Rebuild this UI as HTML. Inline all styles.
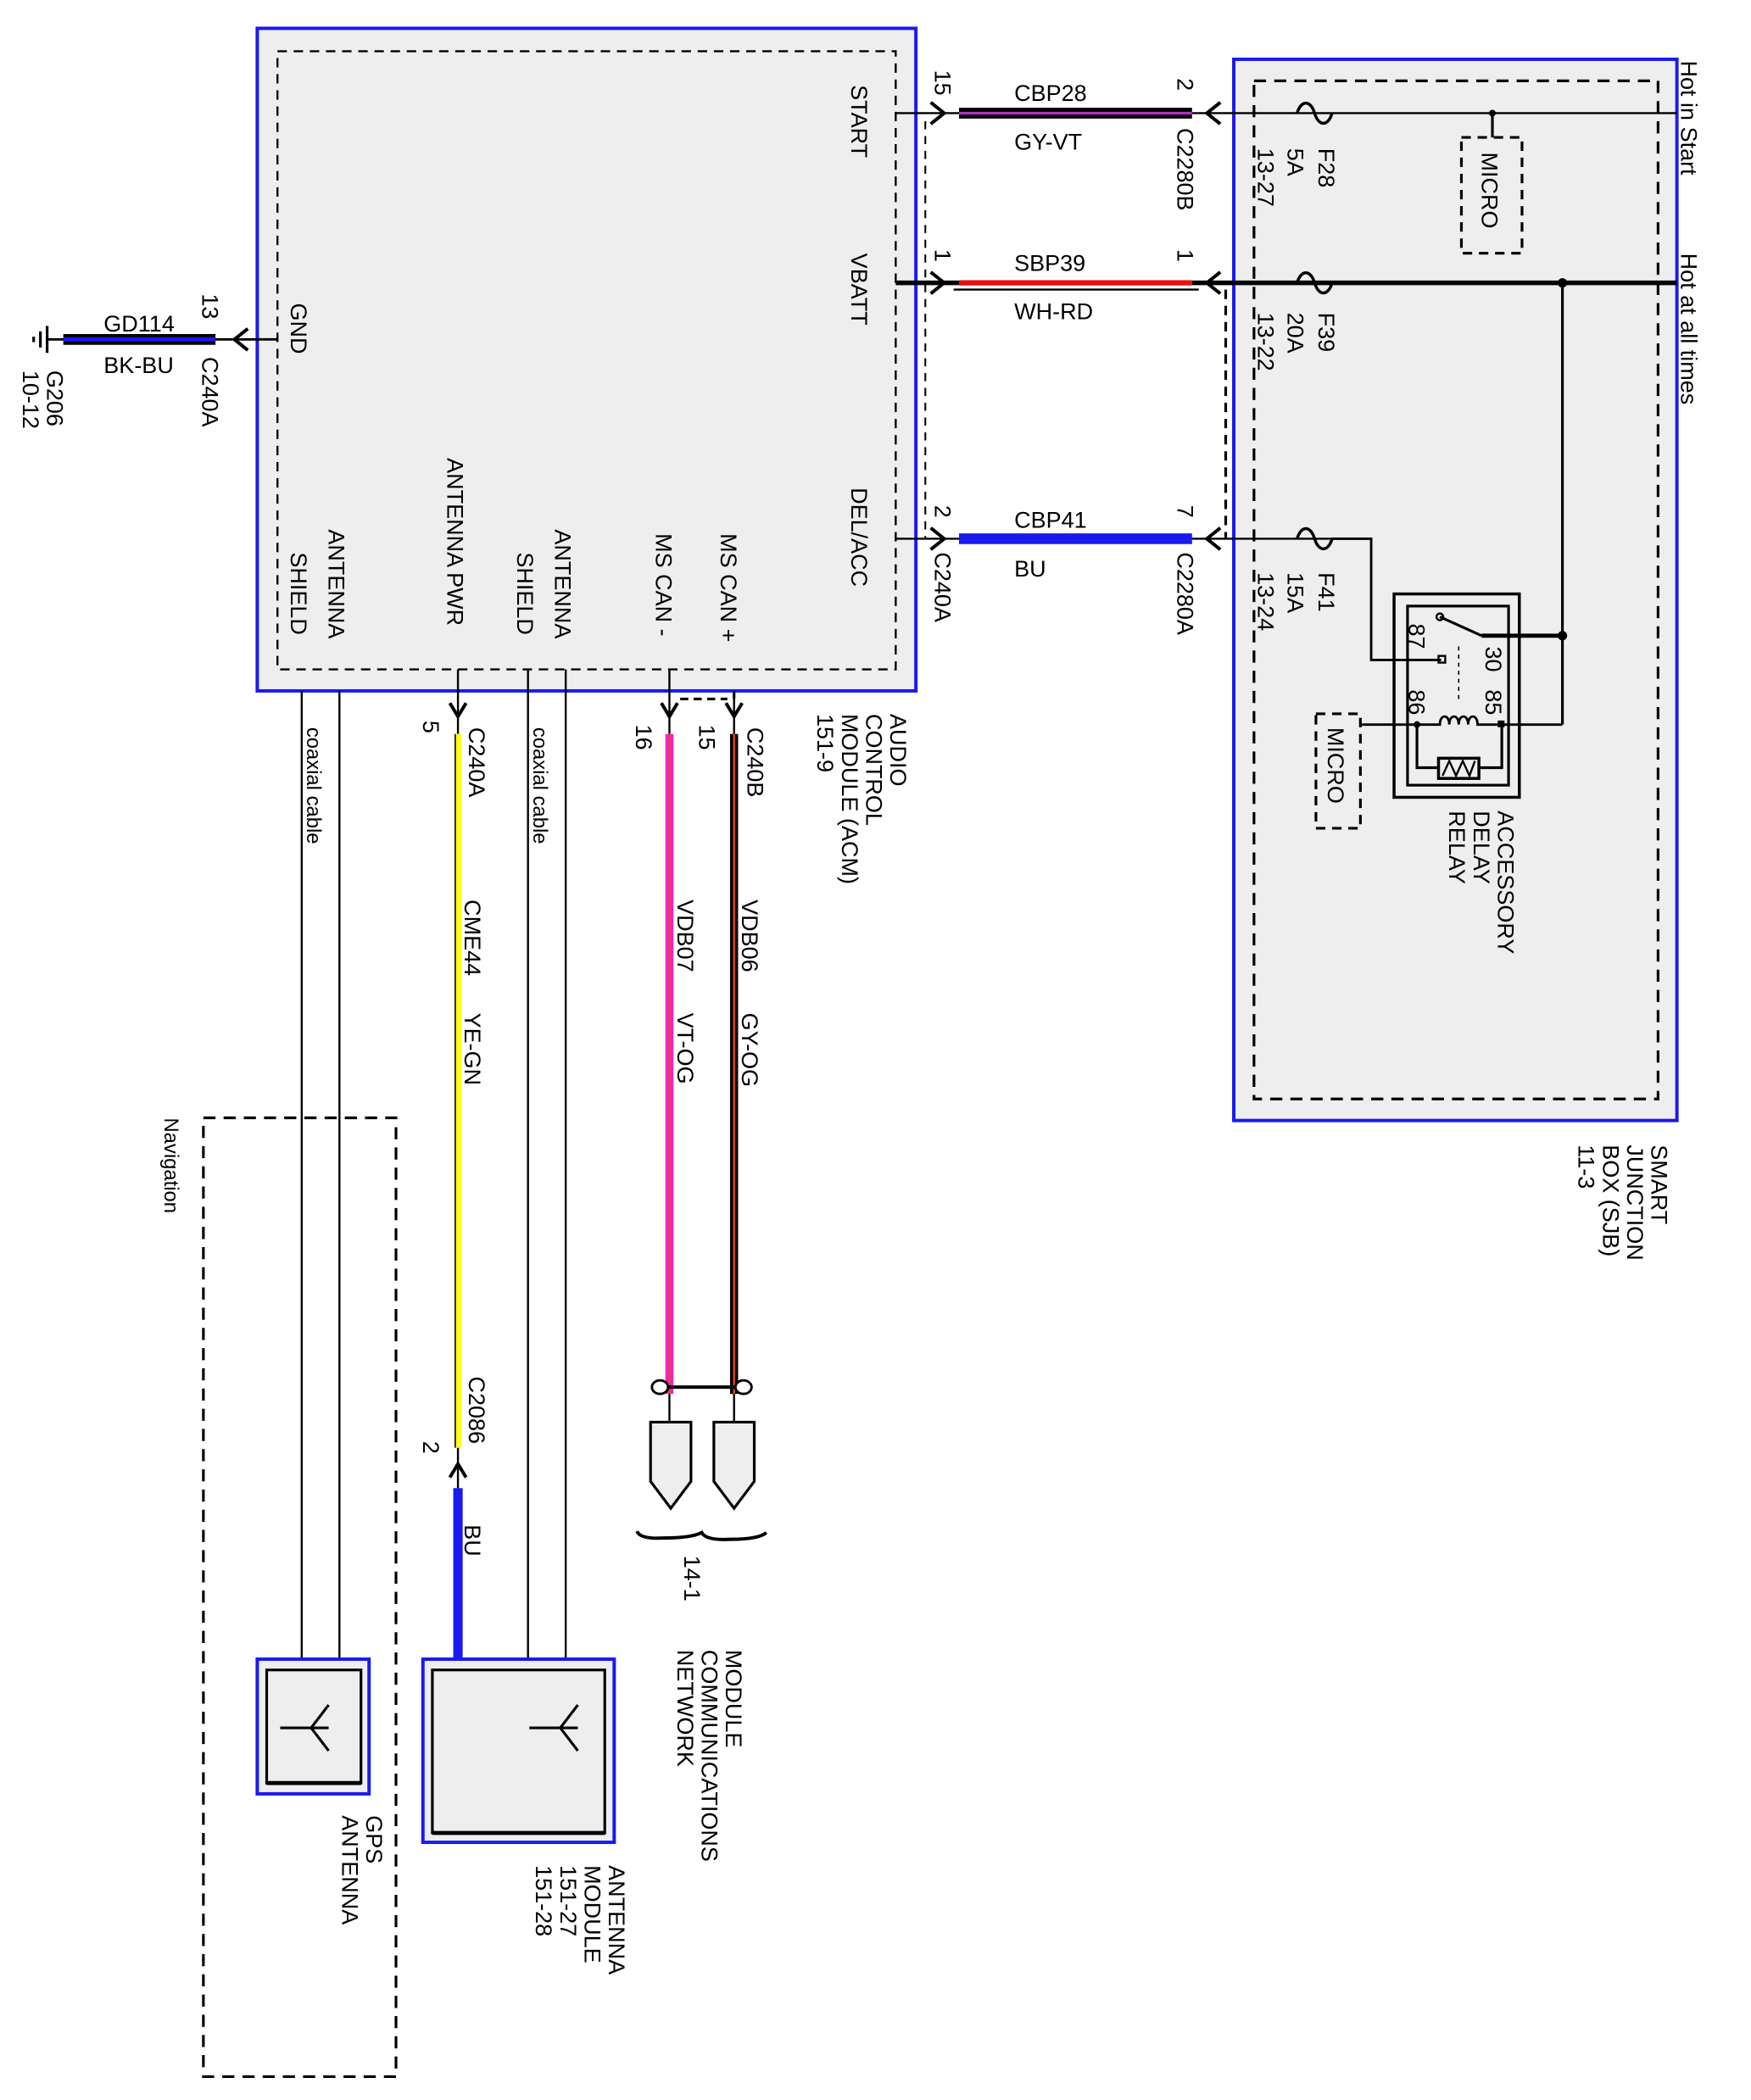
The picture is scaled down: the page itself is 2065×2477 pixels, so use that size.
<!DOCTYPE html>
<html><head><meta charset="utf-8"><style>
html,body{margin:0;padding:0;background:#fff}
svg{display:block}
text{font-family:"Liberation Sans",sans-serif;font-size:17px;fill:#000}
</style></head><body>
<svg width="2065" height="2477" viewBox="0 0 1300 1559.3" xmlns="http://www.w3.org/2000/svg">
<!-- ACM box -->
<rect x="191" y="21" width="489" height="492" fill="#eeeeee" stroke="#1a1aee" stroke-width="2.5"/>
<rect x="206" y="38" width="459" height="459" fill="none" stroke="#000" stroke-width="1.5" stroke-dasharray="7,5"/>
<!-- SJB box -->
<rect x="916" y="44" width="329" height="788" fill="#eeeeee" stroke="#1a1aee" stroke-width="2.5"/>
<rect x="931" y="60" width="300" height="756" fill="none" stroke="#000" stroke-width="2" stroke-dasharray="9,6"/>
<!-- Navigation -->
<rect x="151" y="830" width="143" height="712" fill="none" stroke="#000" stroke-width="2" stroke-dasharray="9,6"/>

<!-- dashed connector lines -->
<line x1="687" y1="90" x2="687" y2="400" stroke="#000" stroke-width="1.3" stroke-dasharray="6,5"/>
<line x1="910" y1="215" x2="910" y2="400" stroke="#000" stroke-width="2" stroke-dasharray="7,5"/>
<line x1="505" y1="519" x2="540" y2="519" stroke="#000" stroke-width="2" stroke-dasharray="6,4"/>
<line x1="545" y1="513" x2="545" y2="519" stroke="#000" stroke-width="2"/>

<!-- START wire -->
<line x1="665" y1="84" x2="1245" y2="84" stroke="#000" stroke-width="1.5"/>
<line x1="712" y1="84" x2="885" y2="84" stroke="#000" stroke-width="8"/>
<line x1="712" y1="84" x2="885" y2="84" stroke="#b030c0" stroke-width="2"/>
<!-- VBATT wire -->
<line x1="665" y1="210" x2="712" y2="210" stroke="#000" stroke-width="3.5"/>
<line x1="885" y1="210" x2="1245" y2="210" stroke="#000" stroke-width="3.5"/>
<line x1="712" y1="210" x2="885" y2="210" stroke="#e81010" stroke-width="4"/>
<line x1="708" y1="215" x2="890" y2="215" stroke="#000" stroke-width="1.5"/>
<!-- DEL/ACC wire -->
<line x1="665" y1="400" x2="1018" y2="400" stroke="#000" stroke-width="1.5"/>
<line x1="712" y1="400" x2="885" y2="400" stroke="#1a1aee" stroke-width="8"/>
<!-- connector arrows horizontal -->
<g fill="none" stroke="#000" stroke-width="2.5">
<path d="M691 76 L701 84 L691 92"/><path d="M691 202 L701 210 L691 218"/><path d="M691 392 L701 400 L691 408"/>
<path d="M906 76 L896 84 L906 92"/><path d="M906 202 L896 210 L906 218"/><path d="M906 392 L896 400 L906 408"/>
<path d="M184 244 L174 252 L184 260"/>
<path d="M334 522 L340 532 L346 522"/><path d="M491 522 L497 532 L503 522"/><path d="M539 522 L545 532 L551 522"/>
<path d="M334 1097 L340 1087 L346 1097"/>
</g>
<!-- fuses -->
<g fill="none" stroke="#000" stroke-width="2.2">
<path d="M963 84 c3,-10 10,-10 13,0 c3,10 10,10 13,0"/>
<path d="M963 210 c3,-10 10,-10 13,0 c3,10 10,10 13,0"/>
<path d="M963 400 c3,-10 10,-10 13,0 c3,10 10,10 13,0"/>
</g>
<!-- MICRO 1 -->
<line x1="1108" y1="84" x2="1108" y2="102" stroke="#000" stroke-width="2"/>
<circle cx="1108" cy="84" r="2.5" fill="#000"/>
<rect x="1085" y="102" width="45" height="86" fill="none" stroke="#000" stroke-width="2" stroke-dasharray="7,5"/>
<!-- VBATT branch -->
<line x1="1160" y1="210" x2="1160" y2="538" stroke="#000" stroke-width="2"/>
<circle cx="1160" cy="210" r="3.5" fill="#000"/>
<circle cx="1160" cy="472" r="3.5" fill="#000"/>
<!-- F41 to relay 87 -->
<path d="M988 400 H1018 V490 H1070" fill="none" stroke="#000" stroke-width="1.8"/>
<!-- relay -->
<rect x="1035" y="441" width="93" height="151" fill="none" stroke="#000" stroke-width="2.2"/>
<rect x="1045" y="450" width="75" height="133" fill="none" stroke="#000" stroke-width="2"/>
<line x1="1100" y1="472" x2="1160" y2="472" stroke="#000" stroke-width="3"/>
<line x1="1069" y1="458" x2="1100" y2="472" stroke="#000" stroke-width="2"/>
<circle cx="1069" cy="458" r="2.5" fill="none" stroke="#000" stroke-width="1.5"/>
<rect x="1068" y="487" width="5" height="5" fill="none" stroke="#000" stroke-width="1.5"/>
<line x1="1083" y1="480" x2="1083" y2="520" stroke="#000" stroke-width="1" stroke-dasharray="3,3"/>
<path d="M1010 538 H1052 M1112 538 H1160" stroke="#000" stroke-width="1.8" fill="none"/>
<path d="M1052 538 H1069 c0,-8 7,-8 7,0 c0,-8 7,-8 7,0 c0,-8 7,-8 7,0 c0,-8 7,-8 7,0 H1115" stroke="#000" stroke-width="1.8" fill="none"/>
<circle cx="1052" cy="538" r="2.5" fill="#000"/><rect x="1112" y="535" width="5" height="5" fill="#000"/>
<path d="M1052 538 V570 H1068 M1098 570 H1115 V538" stroke="#000" stroke-width="2" fill="none"/>
<rect x="1068" y="563" width="30" height="15" fill="none" stroke="#000" stroke-width="2.2"/>
<path d="M1071 576 L1076 565 L1081 576 L1086 565 L1091 576 L1095 565" stroke="#000" stroke-width="1.5" fill="none"/>
<!-- MICRO 2 -->
<rect x="977" y="530" width="33" height="85" fill="none" stroke="#000" stroke-width="2" stroke-dasharray="7,5"/>

<!-- GND wire -->
<line x1="35" y1="252" x2="206" y2="252" stroke="#000" stroke-width="1.8"/>
<line x1="47" y1="252" x2="160" y2="252" stroke="#000" stroke-width="8"/>
<line x1="47" y1="252" x2="160" y2="252" stroke="#1a1aee" stroke-width="3"/>
<g stroke="#000" stroke-width="2"><line x1="35" y1="242" x2="35" y2="262"/><line x1="30" y1="246" x2="30" y2="258"/><line x1="25" y1="250" x2="25" y2="254"/></g>

<!-- vertical wires -->
<g stroke="#000" stroke-width="1.5">
<line x1="224" y1="513" x2="224" y2="1232"/><line x1="252" y1="513" x2="252" y2="1232"/>
<line x1="392" y1="497" x2="392" y2="1232"/><line x1="420" y1="497" x2="420" y2="1232"/>
<line x1="340" y1="497" x2="340" y2="545"/><line x1="340" y1="1075" x2="340" y2="1105"/>
<line x1="497" y1="497" x2="497" y2="545"/><line x1="545" y1="519" x2="545" y2="545"/>
<line x1="497" y1="1032" x2="497" y2="1055"/><line x1="545" y1="1032" x2="545" y2="1055"/>
</g>
<line x1="340" y1="545" x2="340" y2="1075" stroke="#ffff20" stroke-width="5"/>
<line x1="338" y1="545" x2="338" y2="1075" stroke="#000" stroke-width="1"/>
<line x1="340" y1="1105" x2="340" y2="1232" stroke="#1a1aee" stroke-width="7"/>
<line x1="497" y1="545" x2="497" y2="1035" stroke="#ee22cc" stroke-width="6"/>
<line x1="497" y1="545" x2="497" y2="1035" stroke="#e84040" stroke-width="1.5"/>
<line x1="545" y1="545" x2="545" y2="1035" stroke="#000" stroke-width="6"/>
<line x1="545" y1="545" x2="545" y2="1035" stroke="#e84020" stroke-width="1.5"/>
<!-- twist -->
<line x1="490" y1="1030" x2="552" y2="1030" stroke="#000" stroke-width="2.5"/>
<ellipse cx="490" cy="1030" rx="6" ry="5" fill="#fff" stroke="#000" stroke-width="1.8"/>
<ellipse cx="552" cy="1030" rx="6" ry="5" fill="#fff" stroke="#000" stroke-width="1.8"/>
<!-- pointed connectors -->
<path d="M483 1056 H513 V1100 L498 1120 L483 1100 Z" fill="#eeeeee" stroke="#000" stroke-width="2"/>
<path d="M530 1056 H560 V1100 L545 1120 L530 1100 Z" fill="#eeeeee" stroke="#000" stroke-width="2"/>
<path d="M473 1137 q2,6 20,5 q20,0 28,-4 q3,6 22,5 q20,0 26,-5" fill="none" stroke="#000" stroke-width="2.5"/>

<!-- GPS box -->
<rect x="191" y="1232" width="83" height="100" fill="#eeeeee" stroke="#1a1aee" stroke-width="2.5"/>
<rect x="198" y="1240" width="70" height="84" fill="none" stroke="#000" stroke-width="2"/>
<line x1="198" y1="1324" x2="268" y2="1324" stroke="#000" stroke-width="3"/>
<path d="M208 1283 H244 M244 1266 L231 1283 L244 1300" fill="none" stroke="#000" stroke-width="2"/>
<!-- Antenna module box -->
<rect x="314" y="1232" width="142" height="136" fill="#eeeeee" stroke="#1a1aee" stroke-width="2.5"/>
<rect x="321" y="1240" width="128" height="121" fill="none" stroke="#000" stroke-width="2"/>
<line x1="321" y1="1361" x2="449" y2="1361" stroke="#000" stroke-width="3"/>
<path d="M393 1283 H429 M429 1266 L416 1283 L429 1300" fill="none" stroke="#000" stroke-width="2"/>

<!-- horizontal labels -->
<text x="753" y="75">CBP28</text><text x="753" y="111">GY-VT</text>
<text x="753" y="201">SBP39</text><text x="753" y="237">WH-RD</text>
<text x="753" y="392">CBP41</text><text x="753" y="428">BU</text>
<text x="77" y="246">GD114</text><text x="77" y="277">BK-BU</text>

<!-- rotated labels -->
<g>
<text transform="translate(632,63) rotate(90)">START</text>
<text transform="translate(632,188) rotate(90)">VBATT</text>
<text transform="translate(632,362) rotate(90)">DEL/ACC</text>
<text transform="translate(216,225) rotate(90)">GND</text>
<text transform="translate(535,396) rotate(90)">MS CAN +</text>
<text transform="translate(487,396) rotate(90)">MS CAN -</text>
<text transform="translate(412,393) rotate(90)">ANTENNA</text>
<text transform="translate(384,410) rotate(90)">SHIELD</text>
<text transform="translate(332,340) rotate(90)">ANTENNA PWR</text>
<text transform="translate(244,393) rotate(90)">ANTENNA</text>
<text transform="translate(216,410) rotate(90)">SHIELD</text>

<text transform="translate(694,52) rotate(90)">15</text>
<text transform="translate(694,185) rotate(90)">1</text>
<text transform="translate(694,375) rotate(90)">2</text>
<text transform="translate(694,410) rotate(90)">C240A</text>
<text transform="translate(874,58) rotate(90)">2</text>
<text transform="translate(874,95) rotate(90)">C2280B</text>
<text transform="translate(874,185) rotate(90)">1</text>
<text transform="translate(874,375) rotate(90)">7</text>
<text transform="translate(874,410) rotate(90)">C2280A</text>
<text transform="translate(150,218) rotate(90)">13</text>
<text transform="translate(150,265) rotate(90)">C240A</text>
<text transform="translate(35,275) rotate(90)">G206</text>
<text transform="translate(17,275) rotate(90)">10-12</text>

<text transform="translate(979,110) rotate(90)">F28</text>
<text transform="translate(956,110) rotate(90)">5A</text>
<text transform="translate(934,110) rotate(90)">13-27</text>
<text transform="translate(979,232) rotate(90)">F39</text>
<text transform="translate(956,232) rotate(90)">20A</text>
<text transform="translate(934,232) rotate(90)">13-22</text>
<text transform="translate(979,425) rotate(90)">F41</text>
<text transform="translate(956,425) rotate(90)">15A</text>
<text transform="translate(934,425) rotate(90)">13-24</text>
<text transform="translate(1100,113) rotate(90)">MICRO</text>
<text transform="translate(986,540) rotate(90)">MICRO</text>
<text transform="translate(1248,45) rotate(90)">Hot in Start</text>
<text transform="translate(1248,188) rotate(90)">Hot at all times</text>
<text transform="translate(1046,463) rotate(90)">87</text>
<text transform="translate(1103,480) rotate(90)">30</text>
<text transform="translate(1046,512) rotate(90)">86</text>
<text transform="translate(1103,512) rotate(90)">85</text>
<text transform="translate(1112,602) rotate(90)">ACCESSORY</text>
<text transform="translate(1094,602) rotate(90)">DELAY</text>
<text transform="translate(1076,602) rotate(90)">RELAY</text>
<text transform="translate(1226,850) rotate(90)">SMART</text>
<text transform="translate(1208,850) rotate(90)">JUNCTION</text>
<text transform="translate(1190,850) rotate(90)">BOX (SJB)</text>
<text transform="translate(1172,850) rotate(90)">11-3</text>
<text transform="translate(661,530) rotate(90)">AUDIO</text>
<text transform="translate(643,530) rotate(90)">CONTROL</text>
<text transform="translate(625,530) rotate(90)">MODULE (ACM)</text>
<text transform="translate(607,530) rotate(90)">151-9</text>

<text transform="translate(314,535) rotate(90)">5</text>
<text transform="translate(348,540) rotate(90)">C240A</text>
<text transform="translate(472,538) rotate(90)">16</text>
<text transform="translate(519,538) rotate(90)">15</text>
<text transform="translate(555,540) rotate(90)">C240B</text>
<text transform="translate(228,540) rotate(90)" style="font-size:15px">coaxial cable</text>
<text transform="translate(396,540) rotate(90)" style="font-size:15px">coaxial cable</text>
<text transform="translate(345,668) rotate(90)">CME44</text>
<text transform="translate(345,752) rotate(90)">YE-GN</text>
<text transform="translate(503,668) rotate(90)">VDB07</text>
<text transform="translate(503,752) rotate(90)">VT-OG</text>
<text transform="translate(551,668) rotate(90)">VDB06</text>
<text transform="translate(551,752) rotate(90)">GY-OG</text>
<text transform="translate(348,1022) rotate(90)">C2086</text>
<text transform="translate(314,1070) rotate(90)">2</text>
<text transform="translate(345,1132) rotate(90)">BU</text>
<text transform="translate(508,1155) rotate(90)">14-1</text>
<text transform="translate(539,1225) rotate(90)">MODULE</text>
<text transform="translate(521,1225) rotate(90)">COMMUNICATIONS</text>
<text transform="translate(503,1225) rotate(90)">NETWORK</text>
<text transform="translate(122,830) rotate(90)" style="font-size:15px">Navigation</text>
<text transform="translate(272,1348) rotate(90)">GPS</text>
<text transform="translate(254,1348) rotate(90)">ANTENNA</text>
<text transform="translate(452,1385) rotate(90)">ANTENNA</text>
<text transform="translate(434,1385) rotate(90)">MODULE</text>
<text transform="translate(416,1385) rotate(90)">151-27</text>
<text transform="translate(398,1385) rotate(90)">151-28</text>
</g>
</svg>
</body></html>
